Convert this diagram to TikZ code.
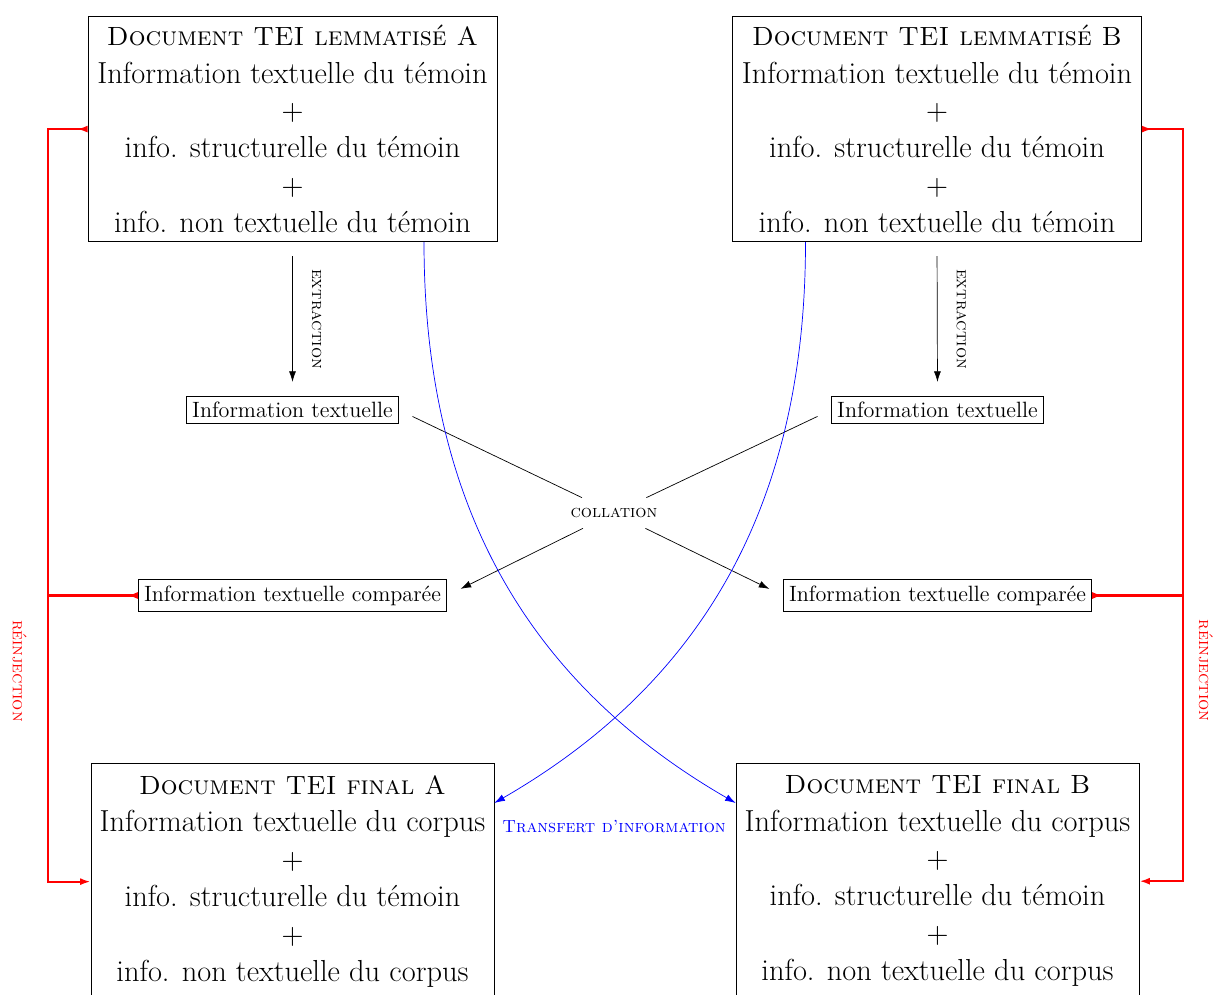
\documentclass[tikz,border=0pt]{standalone}
\usepackage{tikz}
\usetikzlibrary{arrows.meta, positioning, calc}
\definecolor{railred}{RGB}{255,0,0}
\newcommand{\boxtext}{\fontsize{17.3}{21.3}\selectfont}
\newcommand{\headtext}{\fontsize{15}{21.3}\selectfont\scshape}
\newcommand{\infotext}{\fontsize{12.6}{15}\selectfont}

\begin{document}
\begin{tikzpicture}[
  every node/.style={font=\normalsize},
  docnode/.style={rectangle, draw, align=center, font=\boxtext, minimum width=8.18cm, inner ysep=5pt, anchor=north},
  finalnode/.style={docnode, minimum width=8.06cm, inner ysep=7pt},
  infonode/.style={rectangle, draw, font=\infotext},
  labelnode/.style={font=\scshape},
  arr/.style={-{Latex[length=6pt, width=4pt]}},
  reinj/.style={railred, line width=1.2pt, {Latex[reversed, length=6pt, width=4pt]}-{Latex[length=6pt, width=4pt]}},
  reinjtail/.style={railred, line width=1.2pt, -{Latex[reversed, length=6pt, width=4pt]}},
  transf/.style={blue, -{Latex[length=6pt, width=4pt]}},
]
\useasboundingbox (0,0) rectangle (24.26,19.88);

%% Lemmatised documents
\node[docnode] (docA) at (5.85, 19.56) {{\headtext Document TEI lemmatisé A}\\ Information textuelle du témoin\\ +\\ info. structurelle du témoin\\ +\\ info. non textuelle du témoin};
\node[docnode] (docB) at (18.74, 19.56) {{\headtext Document TEI lemmatisé B}\\ Information textuelle du témoin\\ +\\ info. structurelle du témoin\\ +\\ info. non textuelle du témoin};

%% Extracted text
\node[infonode] (infoA) at (5.85, 11.68) {Information textuelle};
\node[infonode] (infoB) at (18.75, 11.68) {Information textuelle};

\draw[arr, shorten <=0.28cm, shorten >=0.28cm] (docA.south) -- node[labelnode, rotate=-90, anchor=south, inner sep=0.38cm] {extraction} (infoA.north);
\draw[arr, shorten <=0.28cm, shorten >=0.28cm] (docB.south) -- node[labelnode, rotate=-90, anchor=south, inner sep=0.38cm] {extraction} (infoB.north);

%% Collation
\node[labelnode, minimum height=0.6cm] (coll) at (12.28, 9.62) {collation};
\node[infonode] (compA) at (5.85, 7.97) {Information textuelle comparée};
\node[infonode] (compB) at (18.75, 7.97) {Information textuelle comparée};

\draw[shorten <=0.3cm] (infoA.east) -- (coll);
\draw[shorten <=0.3cm] (infoB.west) -- (coll);
\draw[arr, shorten >=0.3cm] (coll) -- (compA.east);
\draw[arr, shorten >=0.3cm] (coll) -- (compB.west);

%% Final documents
\node[finalnode] (finalA) at (5.85, 4.62) {{\headtext Document TEI final A}\\ Information textuelle du corpus\\ +\\ info. structurelle du témoin\\ +\\ info. non textuelle du corpus};
\node[finalnode] (finalB) at (18.75, 4.62) {{\headtext Document TEI final B}\\ Information textuelle du corpus\\ +\\ info. structurelle du témoin\\ +\\ info. non textuelle du corpus};

%% Transfer between witnesses
\draw[transf] ([xshift=2.63cm]docA.south) to[out=-90, in=150] ([yshift=-0.8cm]finalB.north west);
\draw[transf] ([xshift=-2.63cm]docB.south) to[out=-90, in=30] ([yshift=-0.8cm]finalA.north east);
\node[labelnode, text=blue] (transfer) at (12.28, 3.34) {Transfert d'information};

%% Reinjection rails
\draw[reinj] (docA.west) -- ++(-0.8,0) coordinate (railA) |- node[pos=0.36, labelnode, rotate=-90, anchor=north, inner sep=0.4cm] {réinjection} (finalA.west);
\draw[reinjtail] (compA.west -| railA) -- (compA.west);
\draw[reinj] (docB.east) -- ++(0.82,0) coordinate (railB) |- node[pos=0.36, labelnode, rotate=-90, anchor=south, inner sep=0.3cm] {réinjection} (finalB.east);
\draw[reinjtail] (compB.east -| railB) -- (compB.east);

\end{tikzpicture}
\end{document}
